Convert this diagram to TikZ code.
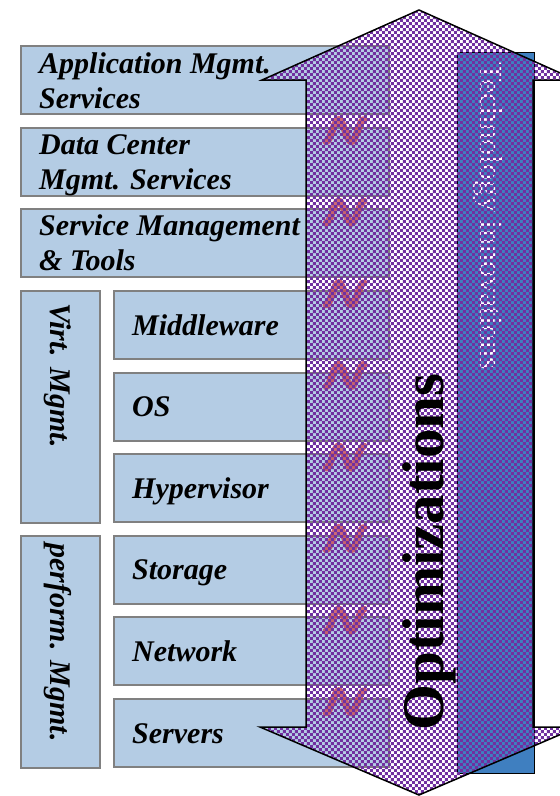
\documentclass[tikz,border=0pt]{standalone}
\usepackage{fontspec}
\setmainfont{Liberation Serif}
\usetikzlibrary{patterns}
\definecolor{LayerBlue}{HTML}{B4CCE4}
\definecolor{LayerGray}{HTML}{808080}
\definecolor{InnoBlue}{HTML}{3F7FC0}
\definecolor{OptPurple}{HTML}{7030A0}
\definecolor{WaveRed}{HTML}{C8505A}
\pgfdeclarepatternformonly{optchecks}{\pgfpointorigin}{\pgfqpoint{6.4pt}{6.4pt}}{\pgfqpoint{6.4pt}{6.4pt}}{%
  \pgfpathrectangle{\pgfpointorigin}{\pgfqpoint{3.2pt}{3.2pt}}%
  \pgfpathrectangle{\pgfqpoint{3.2pt}{3.2pt}}{\pgfqpoint{3.2pt}{3.2pt}}%
  \pgfusepath{fill}}

\begin{document}
\begin{tikzpicture}[x=1pt, y=-1pt,
    layer/.style={rectangle, draw=LayerGray, fill=LayerBlue, line width=2pt,
                  anchor=north west, minimum height=68pt, inner sep=0pt},
    lbl/.style={anchor=base west, align=left, inner sep=0pt,
                font=\fontsize{30}{35}\selectfont\bfseries\itshape},
    wave/.style={draw=WaveRed, line width=7pt, line cap=round, opacity=0.85}
  ]
  \useasboundingbox (0,0) rectangle (560,796);
  \clip (0,0) rectangle (560,796);

  % management layers
  \node[layer, minimum width=368pt] (appbox) at (20,45) {};
  \node[layer, minimum width=368pt] (dcbox) at (20,127) {};
  \node[layer, minimum width=368pt] (smbox) at (20,208) {};
  \node[lbl] (applbl) at (39,108) {Application Mgmt.\\Services};
  \node[lbl] (dclbl) at (39,189) {Data Center\\Mgmt. Services};
  \node[lbl] (smlbl) at (39,270) {Service Management\\\& Tools};

  % side boxes
  \node[layer, minimum width=79pt, minimum height=232pt] (virtbox) at (20,290) {};
  \node[layer, minimum width=79pt, minimum height=232pt] (perfbox) at (20,535) {};
  \node[lbl, rotate=-90] (virtlbl) at (50,303) {Virt. Mgmt.};
  \node[lbl, rotate=-90] (perflbl) at (50,543) {perform. Mgmt.};

  % resource layers
  \foreach \nm/\txt [count=\i from 0] in {mid/Middleware, os/OS, hyp/Hypervisor,
      sto/Storage, net/Network, srv/Servers}{
    \node[layer, minimum width=275pt] (\nm-box) at (113,{290+81.6*\i}) {};
    \node[lbl] (\nm-lbl) at (132,{335+81.6*\i}) {\txt};
  }

  % squiggles between layers
  \foreach \k in {1,...,8}{
    \draw[wave] plot[domain=-90:450, samples=37, smooth]
      ({326+(\x+90)/540*38}, {49+81.6*\k-11*sin(\x)});
  }

  % technology innovations
  \draw[fill=InnoBlue, line width=1pt] (457,52) rectangle (534,773);
  \node[white, rotate=-90, anchor=base, inner sep=0pt,
        font=\fontsize{32}{36}\selectfont] (techlbl) at (480,216) {Technology innovations};

  % optimizations arrow
  \draw[line width=1.5pt, pattern=optchecks, pattern color=OptPurple]
    (419,10) -- (576,80) -- (533,80) -- (533,727) -- (578,727) -- (419,795)
    -- (260,727) -- (306,727) -- (306,80) -- (262,80) -- cycle;
  \node[rotate=90, anchor=base, inner sep=0pt,
        font=\fontsize{59}{60}\selectfont\bfseries] (optlbl) at (443,552) {Optimizations};
\end{tikzpicture}
\end{document}
